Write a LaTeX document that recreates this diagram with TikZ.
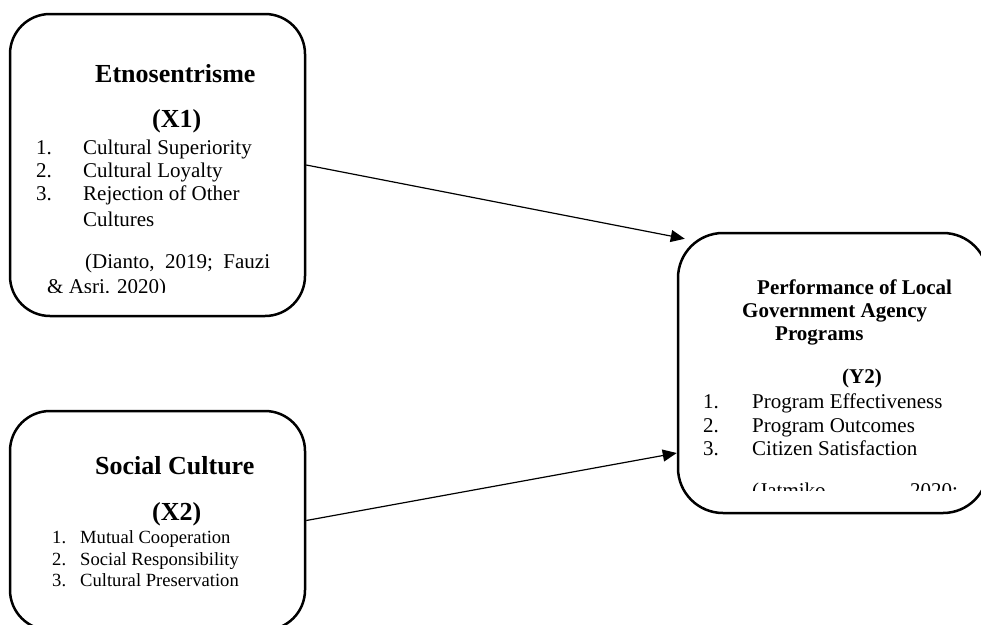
\documentclass[tikz,border=0pt]{standalone}
\usepackage{fontspec}
\setmainfont{Liberation Serif}
\usepackage{tikz}
\usetikzlibrary{arrows.meta}

\tikzset{
  varbox/.style={draw,line width=2.5pt,rounded corners=40pt,inner sep=0pt},
  headtext/.style={anchor=base west,inner sep=0pt,font=\fontsize{26}{28}\selectfont\bfseries},
  subhead/.style={anchor=base west,inner sep=0pt,font=\fontsize{21}{23}\selectfont\bfseries},
  itemtext/.style={anchor=base west,inner sep=0pt,font=\fontsize{21}{23}\selectfont},
  smalltext/.style={anchor=base west,inner sep=0pt,font=\fontsize{18.6}{21}\selectfont},
  link/.style={-{Triangle[length=14pt,width=12pt]},line width=1.2pt}
}

\begin{document}
\begin{tikzpicture}[x=1pt,y=-1pt]
        \useasboundingbox (0,0) rectangle (981,624);
        \clip (0,0) rectangle (981,624);

        % Draw the three boxes
        \node[varbox,minimum width=295pt,minimum height=302pt] (x1) at (157.5,165) {};
        \node[varbox,minimum width=295pt,minimum height=219pt] (x2) at (157.5,520.5) {};
        \node[varbox,rounded corners=45pt,minimum width=310pt,minimum height=280pt] (y2) at (833,373) {};

        % Etnosentrisme box
        \node[headtext] (x1title) at (95,82) {Etnosentrisme};
        \node[headtext] (x1code) at (152,127) {(X1)};
        \node[itemtext] (x1n1) at (36,154) {1.};
        \node[itemtext] (x1i1) at (83,154) {Cultural Superiority};
        \node[itemtext] (x1n2) at (36,177) {2.};
        \node[itemtext] (x1i2) at (83,177) {Cultural Loyalty};
        \node[itemtext] (x1n3) at (36,200) {3.};
        \node[itemtext] (x1i3) at (83,200) {Rejection of Other};
        \node[itemtext] (x1i3b) at (83,226) {Cultures};
        \begin{scope}
          \clip (10,14) rectangle (305,292);
          \node[itemtext] (x1ref) at (85,268) {(Dianto,\ \ 2019;\ \ Fauzi};
          \node[itemtext] (x1refb) at (47,293) {\& Asri. 2020)};
        \end{scope}

        % Social Culture box
        \node[headtext] (x2title) at (95,474) {Social Culture};
        \node[headtext] (x2code) at (152,520) {(X2)};
        \node[smalltext] (x2n1) at (52,543) {1.};
        \node[smalltext] (x2i1) at (80,543) {Mutual Cooperation};
        \node[smalltext] (x2n2) at (52,565) {2.};
        \node[smalltext] (x2i2) at (80,565) {Social Responsibility};
        \node[smalltext] (x2n3) at (52,586) {3.};
        \node[smalltext] (x2i3) at (80,586) {Cultural Preservation};

        % Performance box
        \node[subhead] (y2title) at (757,294) {Performance of Local};
        \node[subhead] (y2titleb) at (742,317) {Government Agency};
        \node[subhead] (y2titlec) at (775,340) {Programs};
        \node[subhead] (y2code) at (842,383) {(Y2)};
        \node[itemtext] (y2n1) at (703,408) {1.};
        \node[itemtext] (y2i1) at (752,408) {Program Effectiveness};
        \node[itemtext] (y2n2) at (703,432) {2.};
        \node[itemtext] (y2i2) at (752,432) {Program Outcomes};
        \node[itemtext] (y2n3) at (703,455) {3.};
        \node[itemtext] (y2i3) at (752,455) {Citizen Satisfaction};
        \begin{scope}
          \clip (678,233) rectangle (990,490);
          \node[itemtext] (y2ref) at (752,497) {(Jatmiko,};
          \node[itemtext] (y2refb) at (910,497) {2020;};
        \end{scope}

        % Draw the arrows
        \coordinate (in1) at ([shift={(8,7)}]y2.north west);
        \coordinate (in2) at ([shift={(0,80)}]y2.west);
        \draw[link] (x1.east) -- (in1);
        \draw[link] (x2.east) -- (in2);
    \end{tikzpicture}
\end{document}
